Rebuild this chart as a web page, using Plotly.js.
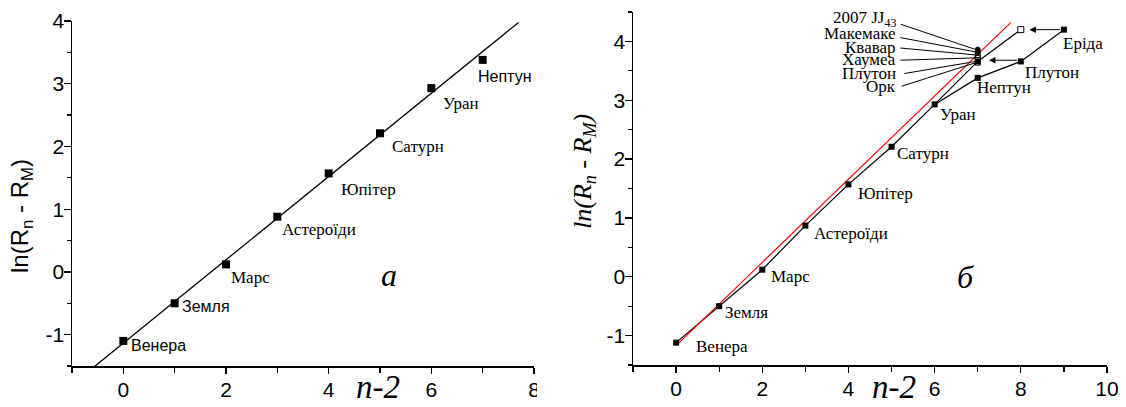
<!DOCTYPE html>
<html>
<head>
<meta charset="utf-8">
<script src="https://cdn.plot.ly/plotly-3.0.1.min.js"></script>
<style>html,body{margin:0;padding:0;background:#fff;}#chart{width:1126px;height:407px;}</style>
</head>
<body>
<div id="chart"></div>
<script>
// ---------- data ----------
const namesLeft = ['Венера','Земля','Марс','Астероїди','Юпітер','Сатурн','Уран','Нептун'];
const nLeft = [0,1,2,3,4,5,6,7];
const lnLeft = [-1.10,-0.50,0.12,0.88,1.57,2.21,2.93,3.38];

const namesRight = ['Венера','Земля','Марс','Астероїди','Юпітер','Сатурн','Уран','Нептун','Плутон','Еріда'];
const nRight = [0,1,2,3,4,5,6,7,8,9];
const lnRight = [-1.12,-0.50,0.12,0.87,1.57,2.21,2.93,3.38,3.66,4.20];

// re-numbered sequence: Уран, Плутон (n-2=7), Еріда (n-2=8)
const nShifted = [6,7,8];
const lnShifted = [2.93,3.66,4.20];

const tnoNames = ['2007 JJ<sub>43</sub>','Макемаке','Квавар','Хаумеа','Плутон','Орк'];
const tnoN = [7,7,7,7,7,7];
const tnoLn = [3.86,3.82,3.77,3.72,3.66,3.64];

// straight-line fits
const fitASlope = 0.664, fitAIntercept = -1.135, fitAX = [-1, 7.7];
const fitBSlope = 0.707, fitBIntercept = -1.17, fitBX = [0, 7.77];

const xTicksA = [0,2,4,6,8];
const xTicksB = [0,2,4,6,8,10];
const yTicksA = [-1,0,1,2,3,4];
const yTicksB = [-1,0,1,2,3,4];

// ---------- styles / layout helpers ----------
const SANS = '"Liberation Sans", Arial, sans-serif';
const SERIF = '"Liberation Serif", "Times New Roman", serif';
const leftLabelFont = [SANS,SANS,SERIF,SERIF,SERIF,SERIF,SERIF,SANS];
const leftLabelSize = [16,16,17,17,17,17,17,16];
const leftLabelDx = [6,5,3,3,10,10,10,-7];
const leftLabelDy = [5,3,13,13,16,13,15,17];
const rightLabelDx = [18,4,7,7,8,3,3,-3,2,-3];
const rightLabelDy = [4,6,7,8,9,7,10,10,11,14];
const tnoLabelX = 5.14;
const tnoLabelY = [4.38,4.13,3.90,3.69,3.45,3.24];
const tnoLeaderX = [5.18,5.17,5.17,5.17,5.26,5.2];
const tnoLeaderY = [4.30,4.07,3.89,3.68,3.45,3.23];
const tnoSymbols = ['circle','circle','square-open','square-open','square','square-open'];

const fitAY = fitAX.map(x => fitAIntercept + fitASlope*x);
const fitBY = fitBX.map(x => fitBIntercept + fitBSlope*x);

const traces = [
  {x: fitAX, y: fitAY, xaxis:'x', yaxis:'y', mode:'lines', line:{color:'#000', width:1.3}, hoverinfo:'skip'},
  {x: nLeft, y: lnLeft, xaxis:'x', yaxis:'y', mode:'markers', marker:{symbol:'square', size:8, color:'#000'}},
  {x: nRight, y: lnRight, xaxis:'x2', yaxis:'y2', mode:'lines', line:{color:'#000', width:1.2}},
  {x: nShifted, y: lnShifted, xaxis:'x2', yaxis:'y2', mode:'lines', line:{color:'#000', width:1.2}},
  {x: fitBX, y: fitBY, xaxis:'x2', yaxis:'y2', mode:'lines', line:{color:'#ff0000', width:1.2}},
  {x: nRight, y: lnRight, xaxis:'x2', yaxis:'y2', mode:'markers', marker:{symbol:'square', size:6, color:'#000'}},
  {x: tnoN, y: tnoLn, xaxis:'x2', yaxis:'y2', mode:'markers',
   marker:{symbol:tnoSymbols, size:5, color:'#000', line:{color:'#000', width:1}}},
  {x: [nShifted[2]], y: [lnShifted[2]], xaxis:'x2', yaxis:'y2', mode:'markers',
   marker:{symbol:'square', size:6, color:'#fff', line:{color:'#000', width:1}}}
];

const ann = [];
namesLeft.forEach((t,i) => ann.push({x:nLeft[i], y:lnLeft[i], xref:'x', yref:'y', text:t, showarrow:false,
  xanchor:'left', yanchor:'middle', xshift:leftLabelDx[i], yshift:-leftLabelDy[i],
  font:{family:leftLabelFont[i], size:leftLabelSize[i], color:'#000'}}));
namesRight.forEach((t,i) => ann.push({x:nRight[i], y:lnRight[i], xref:'x2', yref:'y2', text:t, showarrow:false,
  xanchor:'left', yanchor:'middle', xshift:rightLabelDx[i], yshift:-rightLabelDy[i],
  font:{family:SERIF, size:17, color:'#000'}}));
tnoNames.forEach((t,i) => {
  ann.push({x:tnoLabelX, y:tnoLabelY[i], xref:'x2', yref:'y2', text:t, showarrow:false,
    xanchor:'right', yanchor:'middle', font:{family:SERIF, size:17, color:'#000'}});
  ann.push({x:tnoN[i]-0.04, y:tnoLn[i], xref:'x2', yref:'y2', ax:tnoLeaderX[i], ay:tnoLeaderY[i],
    axref:'x2', ayref:'y2', text:'', showarrow:true, arrowhead:0, arrowwidth:1, arrowcolor:'#000',
    standoff:0, startstandoff:0});
});
// arrows: Еріда 9 -> 8, Плутон 8 -> 7
ann.push({x:nShifted[2]+0.2, y:lnRight[9], xref:'x2', yref:'y2', ax:nRight[9]-0.06, ay:lnRight[9],
  axref:'x2', ayref:'y2', text:'', showarrow:true, arrowhead:2, arrowsize:1.3, arrowwidth:1, arrowcolor:'#000', standoff:0, startstandoff:0});
ann.push({x:nShifted[1]+0.26, y:lnRight[8]+0.02, xref:'x2', yref:'y2', ax:nRight[8]-0.05, ay:lnRight[8]+0.02,
  axref:'x2', ayref:'y2', text:'', showarrow:true, arrowhead:2, arrowsize:1.3, arrowwidth:1, arrowcolor:'#000', standoff:0, startstandoff:0});

// titles and panel letters
ann.push({xref:'paper', yref:'paper', x:22/1126, y:(407-216)/407, text:'ln(R<sub>n</sub> - R<sub>M</sub>)',
  textangle:-90, showarrow:false, xanchor:'center', yanchor:'middle', font:{family:SANS, size:24, color:'#000'}});
ann.push({xref:'paper', yref:'paper', x:584/1126, y:(407-172)/407, text:'<i>ln(R<sub>n</sub> - R<sub>M</sub>)</i>',
  textangle:-90, showarrow:false, xanchor:'center', yanchor:'middle', font:{family:SERIF, size:26, color:'#000'}});
ann.push({xref:'paper', yref:'paper', x:378/1126, y:0, text:'<i>n-2</i>', showarrow:false,
  xanchor:'center', yanchor:'bottom', font:{family:SERIF, size:33, color:'#000'}});
ann.push({xref:'paper', yref:'paper', x:894/1126, y:0, text:'<i>n-2</i>', showarrow:false,
  xanchor:'center', yanchor:'bottom', font:{family:SERIF, size:33, color:'#000'}});
ann.push({xref:'x', yref:'y', x:5.17, y:-0.05, text:'<i>а</i>', showarrow:false,
  xanchor:'center', yanchor:'middle', font:{family:SERIF, size:32, color:'#000'}});
ann.push({xref:'x2', yref:'y2', x:6.71, y:0.0, text:'<i>б</i>', showarrow:false,
  xanchor:'center', yanchor:'middle', font:{family:SERIF, size:32, color:'#000'}});

function xAxis(domain, range, tickvals, anchor){
  return {domain, range, anchor, tickvals, ticktext: tickvals.map(String), ticks:'outside', ticklen:6, tickwidth:1.3,
    tickcolor:'#000', showline:true, linecolor:'#000', linewidth:1.5, showgrid:false, zeroline:false,
    ticklabelstandoff:-2,
    tickfont:{family:SANS, size:21, color:'#000'},
    minor:{dtick:1, tick0:0, ticks:'outside', ticklen:5, tickwidth:1.3, tickcolor:'#000', showgrid:false}};
}
function yAxis(domain, range, tickvals, anchor){
  return {domain, range, anchor, tickvals, ticktext: tickvals.map(String), ticks:'outside', ticklen:7, tickwidth:1.3,
    tickcolor:'#000', showline:true, linecolor:'#000', linewidth:1.5, showgrid:false, zeroline:false,
    ticklabelstandoff:-5,
    tickfont:{family:SANS, size:21, color:'#000'},
    minor:{dtick:0.5, tick0:0, ticks:'outside', ticklen:4, tickwidth:1.3, tickcolor:'#000', showgrid:false}};
}

const layout = {
  width:1126, height:407, margin:{l:0,r:0,t:0,b:0}, paper_bgcolor:'#fff', plot_bgcolor:'rgba(0,0,0,0)',
  showlegend:false,
  xaxis: xAxis([72/1126, 534/1126], [-1,8], xTicksA, 'y'),
  yaxis: yAxis([(407-366)/407, (407-21)/407], [-1.5,4], yTicksA, 'x'),
  xaxis2: xAxis([633/1126, 1107/1126], [-1,10], xTicksB, 'y2'),
  yaxis2: yAxis([(407-365)/407, (407-12)/407], [-1.5,4.5], yTicksB, 'x2'),
  annotations: ann,
  shapes: [{type:'rect', xref:'paper', yref:'paper', x0:537/1126, x1:600/1126, y0:0, y1:(407-372)/407,
    fillcolor:'#fff', line:{width:0}, layer:'above'}]
};

Plotly.newPlot('chart', traces, layout, {staticPlot:true, displayModeBar:false});
</script>
</body>
</html>
